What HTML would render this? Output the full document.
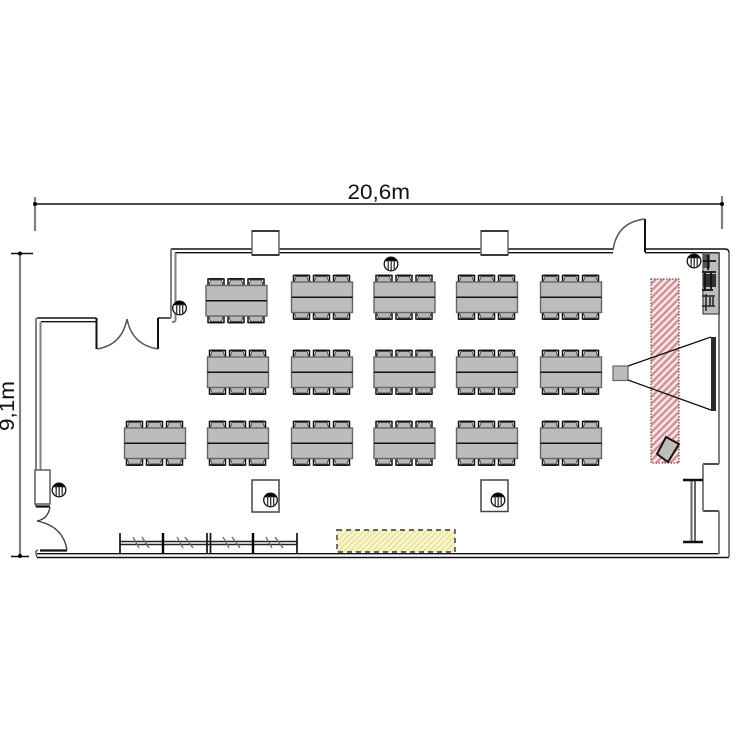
<!DOCTYPE html>
<html><head><meta charset="utf-8"><style>html,body{margin:0;padding:0;background:#fff}svg{display:block}text{font-family:"Liberation Sans",sans-serif;fill:#111}</style></head><body>
<svg width="750" height="750" viewBox="0 0 750 750" xmlns="http://www.w3.org/2000/svg">
<defs>
<pattern id="ph" width="5" height="5" patternUnits="userSpaceOnUse" patternTransform="rotate(45)"><rect width="5" height="5" fill="#f8e6e6"/><rect width="2.400" height="5" fill="#cf9096"/></pattern>
<pattern id="yh" width="4" height="4" patternUnits="userSpaceOnUse" patternTransform="rotate(45)"><rect width="4" height="4" fill="#fbf7d8"/><rect width="2" height="4" fill="#ebe59b"/></pattern>
<g id="c"><path d="M1 8.500V1.500H17V8.500" fill="#fff" stroke="#111" stroke-width="1.500"/><path d="M1.500 8.500 3.500 2.500H14.500L16.500 8.500Z" fill="#b8b8b8" stroke="#333" stroke-width="0.800"/><path d="M2 1.200H16" stroke="#111" stroke-width="1.300"/></g>
<g id="t">
<use href="#c" x="1" y="-8"/><use href="#c" x="21" y="-8"/><use href="#c" x="41" y="-8"/>
<use href="#c" transform="translate(1 38.500) scale(1 -1)"/><use href="#c" transform="translate(21 38.500) scale(1 -1)"/><use href="#c" transform="translate(41 38.500) scale(1 -1)"/>
<rect x="0" y="0" width="61" height="30.500" fill="#bcbcbc" stroke="#666" stroke-width="1.400"/><path d="M0 15.300H61" stroke="#111" stroke-width="1.500"/></g>
<g id="s"><circle r="6.800" fill="#fff" stroke="#111" stroke-width="1.300"/><path d="M-6 -2.800A6.800 6.800 0 0 1 6 -2.800Z" fill="#000"/><path d="M-2.800 -4V6M0.200 -4V6.800M3.200 -4V6" stroke="#333" stroke-width="1.300"/></g>
</defs>
<g fill="none" stroke="#111" stroke-width="1.500">
<path d="M35 204H722"/>
<path d="M11 253.500H33M11 556.500H29"/>
</g>
<path d="M35 197V231M722 196V229M20 253V556" stroke="#808080" stroke-width="2.200" fill="none"/>
<circle cx="35" cy="204" r="2"/><circle cx="722" cy="204" r="2"/><circle cx="20" cy="253.500" r="2"/><circle cx="20" cy="556" r="2"/>
<text x="347.500" y="199" font-size="21" textLength="62.500" lengthAdjust="spacingAndGlyphs">20,6m</text>
<text transform="translate(14 431) rotate(-90)" font-size="21" textLength="50" lengthAdjust="spacingAndGlyphs">9,1m</text>

<!-- walls -->
<g fill="none" stroke="#111" stroke-width="1.400">
<path d="M171 249H613M175 252.700H613"/>
<path d="M645 249H725Q729 249 729 253M645 252.700H719"/>
<path d="M37 318H96.500M41 321.700H96.500"/>
<path d="M158 318H171"/>
<path d="M37 553.700H719M37 557.500H729"/>
<path d="M719 464H703M703 511H719"/>
</g>
<g fill="none" stroke="#808080" stroke-width="2">
<path d="M171 249V318M175.500 252.700V320Q175.500 322 172 322"/>
<path d="M36 318V470M40.500 321.700V470"/>
<path d="M719 252V464M703 464V511M719 511V554M729 252V557"/>
</g>
<path d="M96.500 318V349M158 318V349M645 219V252" stroke="#111" stroke-width="2" fill="none"/>
<path d="M97 349Q122 345 127 319M158 349Q132 345 127 319M613 250Q617 222 645 219" fill="none" stroke="#555" stroke-width="1.500"/>

<!-- entrance lower left -->
<rect x="35" y="470" width="15" height="34" fill="#fff" stroke="#666" stroke-width="1.600"/>
<path d="M36 506.500H50M40 550.500H67" stroke="#111" stroke-width="2.200" fill="none"/>
<path d="M36 504V507M50 507Q48 519 37 521Q63 526 67 550" fill="none" stroke="#444" stroke-width="1.400"/>
<path d="M37 557Q36 556 36 551L38 550" fill="none" stroke="#555" stroke-width="1.400"/>

<!-- columns -->
<g fill="#fff">
<rect x="252" y="231" width="27" height="24" stroke="#666" stroke-width="1.500"/>
<rect x="481" y="231" width="27" height="24" stroke="#666" stroke-width="1.500"/>
<rect x="252" y="480" width="27" height="32" stroke="#444" stroke-width="1.500"/>
<rect x="481" y="480" width="27" height="31.500" stroke="#444" stroke-width="1.500"/>
</g>
<path d="M252 231H279M252 255H279M481 231H508M481 255H508" stroke="#111" stroke-width="1.400"/>

<!-- tables -->
<use href="#t" x="206" y="285.500"/><use href="#t" x="291.500" y="282"/><use href="#t" x="374" y="282"/><use href="#t" x="456.500" y="282"/><use href="#t" x="540.500" y="282"/>
<use href="#t" x="207.500" y="357"/><use href="#t" x="291.500" y="357"/><use href="#t" x="374" y="357"/><use href="#t" x="456.500" y="357"/><use href="#t" x="540.500" y="357"/>
<use href="#t" x="124.500" y="428"/><use href="#t" x="207.500" y="428"/><use href="#t" x="291.500" y="428"/><use href="#t" x="374" y="428"/><use href="#t" x="456.500" y="428"/><use href="#t" x="540.500" y="428"/>

<!-- hatch -->
<rect x="651" y="279" width="28" height="184" fill="url(#ph)" stroke="#7a4a4a" stroke-width="1.200" stroke-dasharray="1.500 1.500"/>
<rect x="337" y="530" width="118" height="22" fill="url(#yh)" stroke="#333" stroke-width="1.400" stroke-dasharray="5 4"/>
<path d="M666 437 679 444 668 462 657 454Z" fill="#bdbdbd" stroke="#1f1010" stroke-width="2"/>

<!-- projector + screen -->
<rect x="613" y="366" width="15" height="14.500" fill="#bcbcbc" stroke="#666" stroke-width="1.200"/>
<path d="M628 366 711 337M628 380 711 410" stroke="#111" stroke-width="1.300" fill="none"/>
<rect x="711" y="337" width="5" height="74" fill="#2a2a2a"/>

<!-- right-side screen rail -->
<path d="M691.500 481V541M695 481V541" stroke="#666" stroke-width="2" fill="none"/>
<path d="M683 480H703M683 542H703" stroke="#111" stroke-width="2.400" fill="none"/>

<!-- equipment -->
<rect x="703" y="253" width="16" height="61" fill="#bdbdbd" stroke="#444" stroke-width="1.200"/>
<rect x="703" y="254" width="7" height="14" fill="#555"/>
<path d="M703 261H716M708 255V270" stroke="#111" stroke-width="1.800" fill="none"/>
<rect x="703" y="274" width="13" height="13" fill="#333"/>
<path d="M702 272H716M702 290H713M705 273V291M711 273V289" stroke="#111" stroke-width="1.800" fill="none"/>
<path d="M702 296H715M702 306H715M706 294V311M710 297V306M713 297V306" stroke="#222" stroke-width="1.500" fill="none"/>

<!-- coat racks -->
<path d="M120 541.500H297M120 544.500H297" stroke="#222" stroke-width="1.500" fill="none"/>
<path d="M120 533V553M297 533V553M207 533V553M210.500 533V553" stroke="#111" stroke-width="1.700" fill="none"/>
<path d="M163 533V553M253 533V553" stroke="#000" stroke-width="2.400" fill="none"/>
<path d="M133 537 139 548M142 537 149 548M177 537 183 548M185 537 193 548M223 537 229 548M232 537 240 548M266 537 272 548M275 537 283 548" stroke="#666" stroke-width="1.300" fill="none"/>

<!-- sockets -->
<use href="#s" x="179.500" y="308"/><use href="#s" x="391" y="264"/><use href="#s" x="694" y="261"/><use href="#s" x="59" y="490"/><use href="#s" x="270.500" y="500"/><use href="#s" x="498" y="500"/>
</svg>
</body></html>
